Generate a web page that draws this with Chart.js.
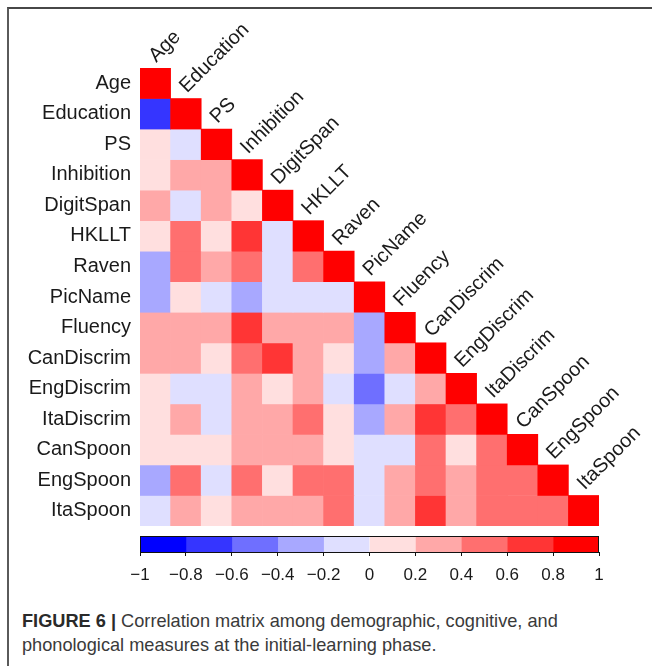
<!DOCTYPE html>
<html>
<head>
<meta charset="utf-8">
<script src="https://cdn.jsdelivr.net/npm/chart.js@4.4.1/dist/chart.umd.min.js"></script>
<style>
  html, body { margin: 0; padding: 0; background: #ffffff; }
  body { width: 652px; height: 666px; position: relative; overflow: hidden; }
  #frame {
    position: absolute; left: 7px; top: 7px; width: 700px; height: 700px;
    border-top: 2px solid #474747; border-left: 2px solid #5a5a5a;
  }
  #matrix { position: absolute; left: 0; top: 0; }
  #scalebar { position: absolute; left: 0; top: 530px; }
  #caption {
    position: absolute; left: 22px; top: 609px; width: 625px;
    font-family: "Liberation Sans", Arial, sans-serif;
    font-size: 18.2px; line-height: 24px; color: #3a3a3a; white-space: nowrap;
  }
  #caption b { font-weight: bold; color: #2a2a2a; }
</style>
</head>
<body>
<div id="frame"></div>
<canvas id="matrix" width="652" height="530"></canvas>
<canvas id="scalebar" width="652" height="70"></canvas>
<div id="caption"><b>FIGURE 6 |</b> Correlation matrix among demographic, cognitive, and<br>phonological measures at the initial-learning phase.</div>

<script>
// Measures, in row/column order
const measures = [
  'Age', 'Education', 'PS', 'Inhibition', 'DigitSpan', 'HKLLT', 'Raven',
  'PicName', 'Fluency', 'CanDiscrim', 'EngDiscrim', 'ItaDiscrim',
  'CanSpoon', 'EngSpoon', 'ItaSpoon'
];

// Lower triangle of the correlation matrix (row i holds columns 0..i)
const corr = [
  [1],
  [-0.7, 1],
  [0.1, -0.1, 1],
  [0.1, 0.3, 0.3, 1],
  [0.3, -0.1, 0.3, 0.1, 1],
  [0.1, 0.5, 0.1, 0.7, -0.1, 1],
  [-0.3, 0.5, 0.3, 0.5, -0.1, 0.5, 1],
  [-0.3, 0.1, -0.1, -0.3, -0.1, -0.1, -0.1, 1],
  [0.3, 0.3, 0.3, 0.7, 0.3, 0.3, 0.3, -0.3, 1],
  [0.3, 0.3, 0.1, 0.5, 0.7, 0.3, 0.1, -0.3, 0.3, 1],
  [0.1, -0.1, -0.1, 0.3, 0.1, 0.3, -0.1, -0.5, -0.1, 0.3, 1],
  [0.1, 0.3, -0.1, 0.3, 0.3, 0.5, 0.1, -0.3, 0.3, 0.7, 0.5, 1],
  [0.1, 0.1, 0.1, 0.3, 0.3, 0.3, 0.1, -0.1, -0.1, 0.5, 0.1, 0.5, 1],
  [-0.3, 0.5, -0.1, 0.5, 0.1, 0.5, 0.5, -0.1, 0.3, 0.5, 0.3, 0.5, 0.5, 1],
  [-0.1, 0.3, 0.1, 0.3, 0.3, 0.3, 0.5, -0.1, 0.3, 0.7, 0.3, 0.5, 0.5, 0.5, 1]
];

// Colour scale: ten equal bins from -1 to 1
const binEdges = [-1, -0.8, -0.6, -0.4, -0.2, 0, 0.2, 0.4, 0.6, 0.8, 1];
const binColors = [
  '#0000FF', '#3535FF', '#6F6FFF', '#A8A8FF', '#DFDFFF',
  '#FFDFDF', '#FFA8A8', '#FF6F6F', '#FF3535', '#FF0000'
];
const scaleTicks = [-1, -0.8, -0.6, -0.4, -0.2, 0, 0.2, 0.4, 0.6, 0.8, 1];

function colorFor(v) {
  let k = binEdges.findIndex((e, idx) => idx > 0 && v < e) - 1;
  if (k < 0) k = binColors.length - 1;
  return binColors[k];
}

function fmtTick(v) {
  const r = Math.round(v * 10) / 10;
  if (r === 0) return '0';
  return (r < 0 ? '\u2212' : '') + String(Math.abs(r));
}

const LABEL_FONT = '20px "Liberation Sans", Arial, sans-serif';

// Rotated column headers along the diagonal
const diagonalLabels = {
  id: 'diagonalLabels',
  afterDraw(chart) {
    const { ctx } = chart;
    const xs = chart.scales.x, ys = chart.scales.y;
    ctx.save();
    ctx.font = LABEL_FONT;
    ctx.fillStyle = '#1a1a1a';
    ctx.textAlign = 'left';
    ctx.textBaseline = 'alphabetic';
    measures.forEach((name, j) => {
      const x = xs.getPixelForValue(j);
      const y = ys.getPixelForValue(j);
      ctx.save();
      ctx.translate(x + 1, y - 5);
      ctx.rotate(-Math.PI / 4);
      ctx.fillText(name, 0, 0);
      ctx.restore();
    });
    ctx.restore();
  }
};

const rowDatasets = corr.map((row, i) => ({
  label: measures[i],
  data: row.map((v, j) => ({ x: measures[j], y: [i, i + 1], r: v })),
  backgroundColor: (c) => (c.raw ? colorFor(c.raw.r) : '#fff'),
  borderWidth: 0,
  barPercentage: 1,
  categoryPercentage: 1,
  grouped: false
}));

new Chart(document.getElementById('matrix'), {
  type: 'bar',
  data: { labels: measures, datasets: rowDatasets },
  options: {
    responsive: false,
    animation: false,
    devicePixelRatio: 1,
    layout: { padding: { top: 68, right: 53, bottom: 4, left: 0 } },
    plugins: { legend: { display: false }, tooltip: { enabled: false } },
    scales: {
      x: { type: 'category', display: false, offset: true },
      y: {
        type: 'linear', min: 0, max: measures.length, reverse: true,
        afterFit: (s) => { s.width = 140; s.paddingTop = 0; s.paddingBottom = 0; },
        afterBuildTicks: (s) => { s.ticks = measures.map((_, i) => ({ value: i + 0.5 })); },
        ticks: {
          padding: 9,
          font: { family: '"Liberation Sans", Arial, sans-serif', size: 20 },
          color: '#1a1a1a',
          callback: (v, idx) => measures[idx]
        },
        grid: { display: false, drawTicks: false },
        border: { display: false }
      }
    }
  },
  plugins: [diagonalLabels]
});

// Outline around the colour bar
const barOutline = {
  id: 'barOutline',
  afterDatasetsDraw(chart) {
    const a = chart.chartArea, ctx = chart.ctx;
    ctx.save();
    ctx.strokeStyle = '#111';
    ctx.lineWidth = 1;
    ctx.strokeRect(Math.round(a.left) + 0.5, Math.round(a.top) + 0.5,
      Math.round(a.right - a.left) - 1, Math.round(a.bottom - a.top));
    ctx.restore();
  }
};

new Chart(document.getElementById('scalebar'), {
  type: 'bar',
  data: {
    labels: [''],
    datasets: binColors.map((c, k) => ({
      data: [[binEdges[k], binEdges[k + 1]]],
      backgroundColor: c,
      borderWidth: 0,
      barPercentage: 1,
      categoryPercentage: 1,
      grouped: false
    }))
  },
  options: {
    indexAxis: 'y',
    responsive: false,
    animation: false,
    devicePixelRatio: 1,
    layout: { padding: { top: 6, right: 53, bottom: 0, left: 140 } },
    plugins: { legend: { display: false }, tooltip: { enabled: false } },
    scales: {
      y: { type: 'category', display: false },
      x: {
        type: 'linear', min: -1, max: 1,
        afterFit: (s) => { s.height = 48; },
        afterBuildTicks: (s) => { s.ticks = scaleTicks.map(v => ({ value: v })); },
        ticks: {
          padding: 9,
          maxRotation: 0,
          font: { family: '"Liberation Sans", Arial, sans-serif', size: 17 },
          color: '#1a1a1a',
          callback: (v) => fmtTick(v)
        },
        grid: { drawOnChartArea: false, drawTicks: true, tickLength: 4, color: '#111' },
        border: { display: true, color: '#111' }
      }
    }
  },
  plugins: [barOutline]
});
</script>
</body>
</html>
